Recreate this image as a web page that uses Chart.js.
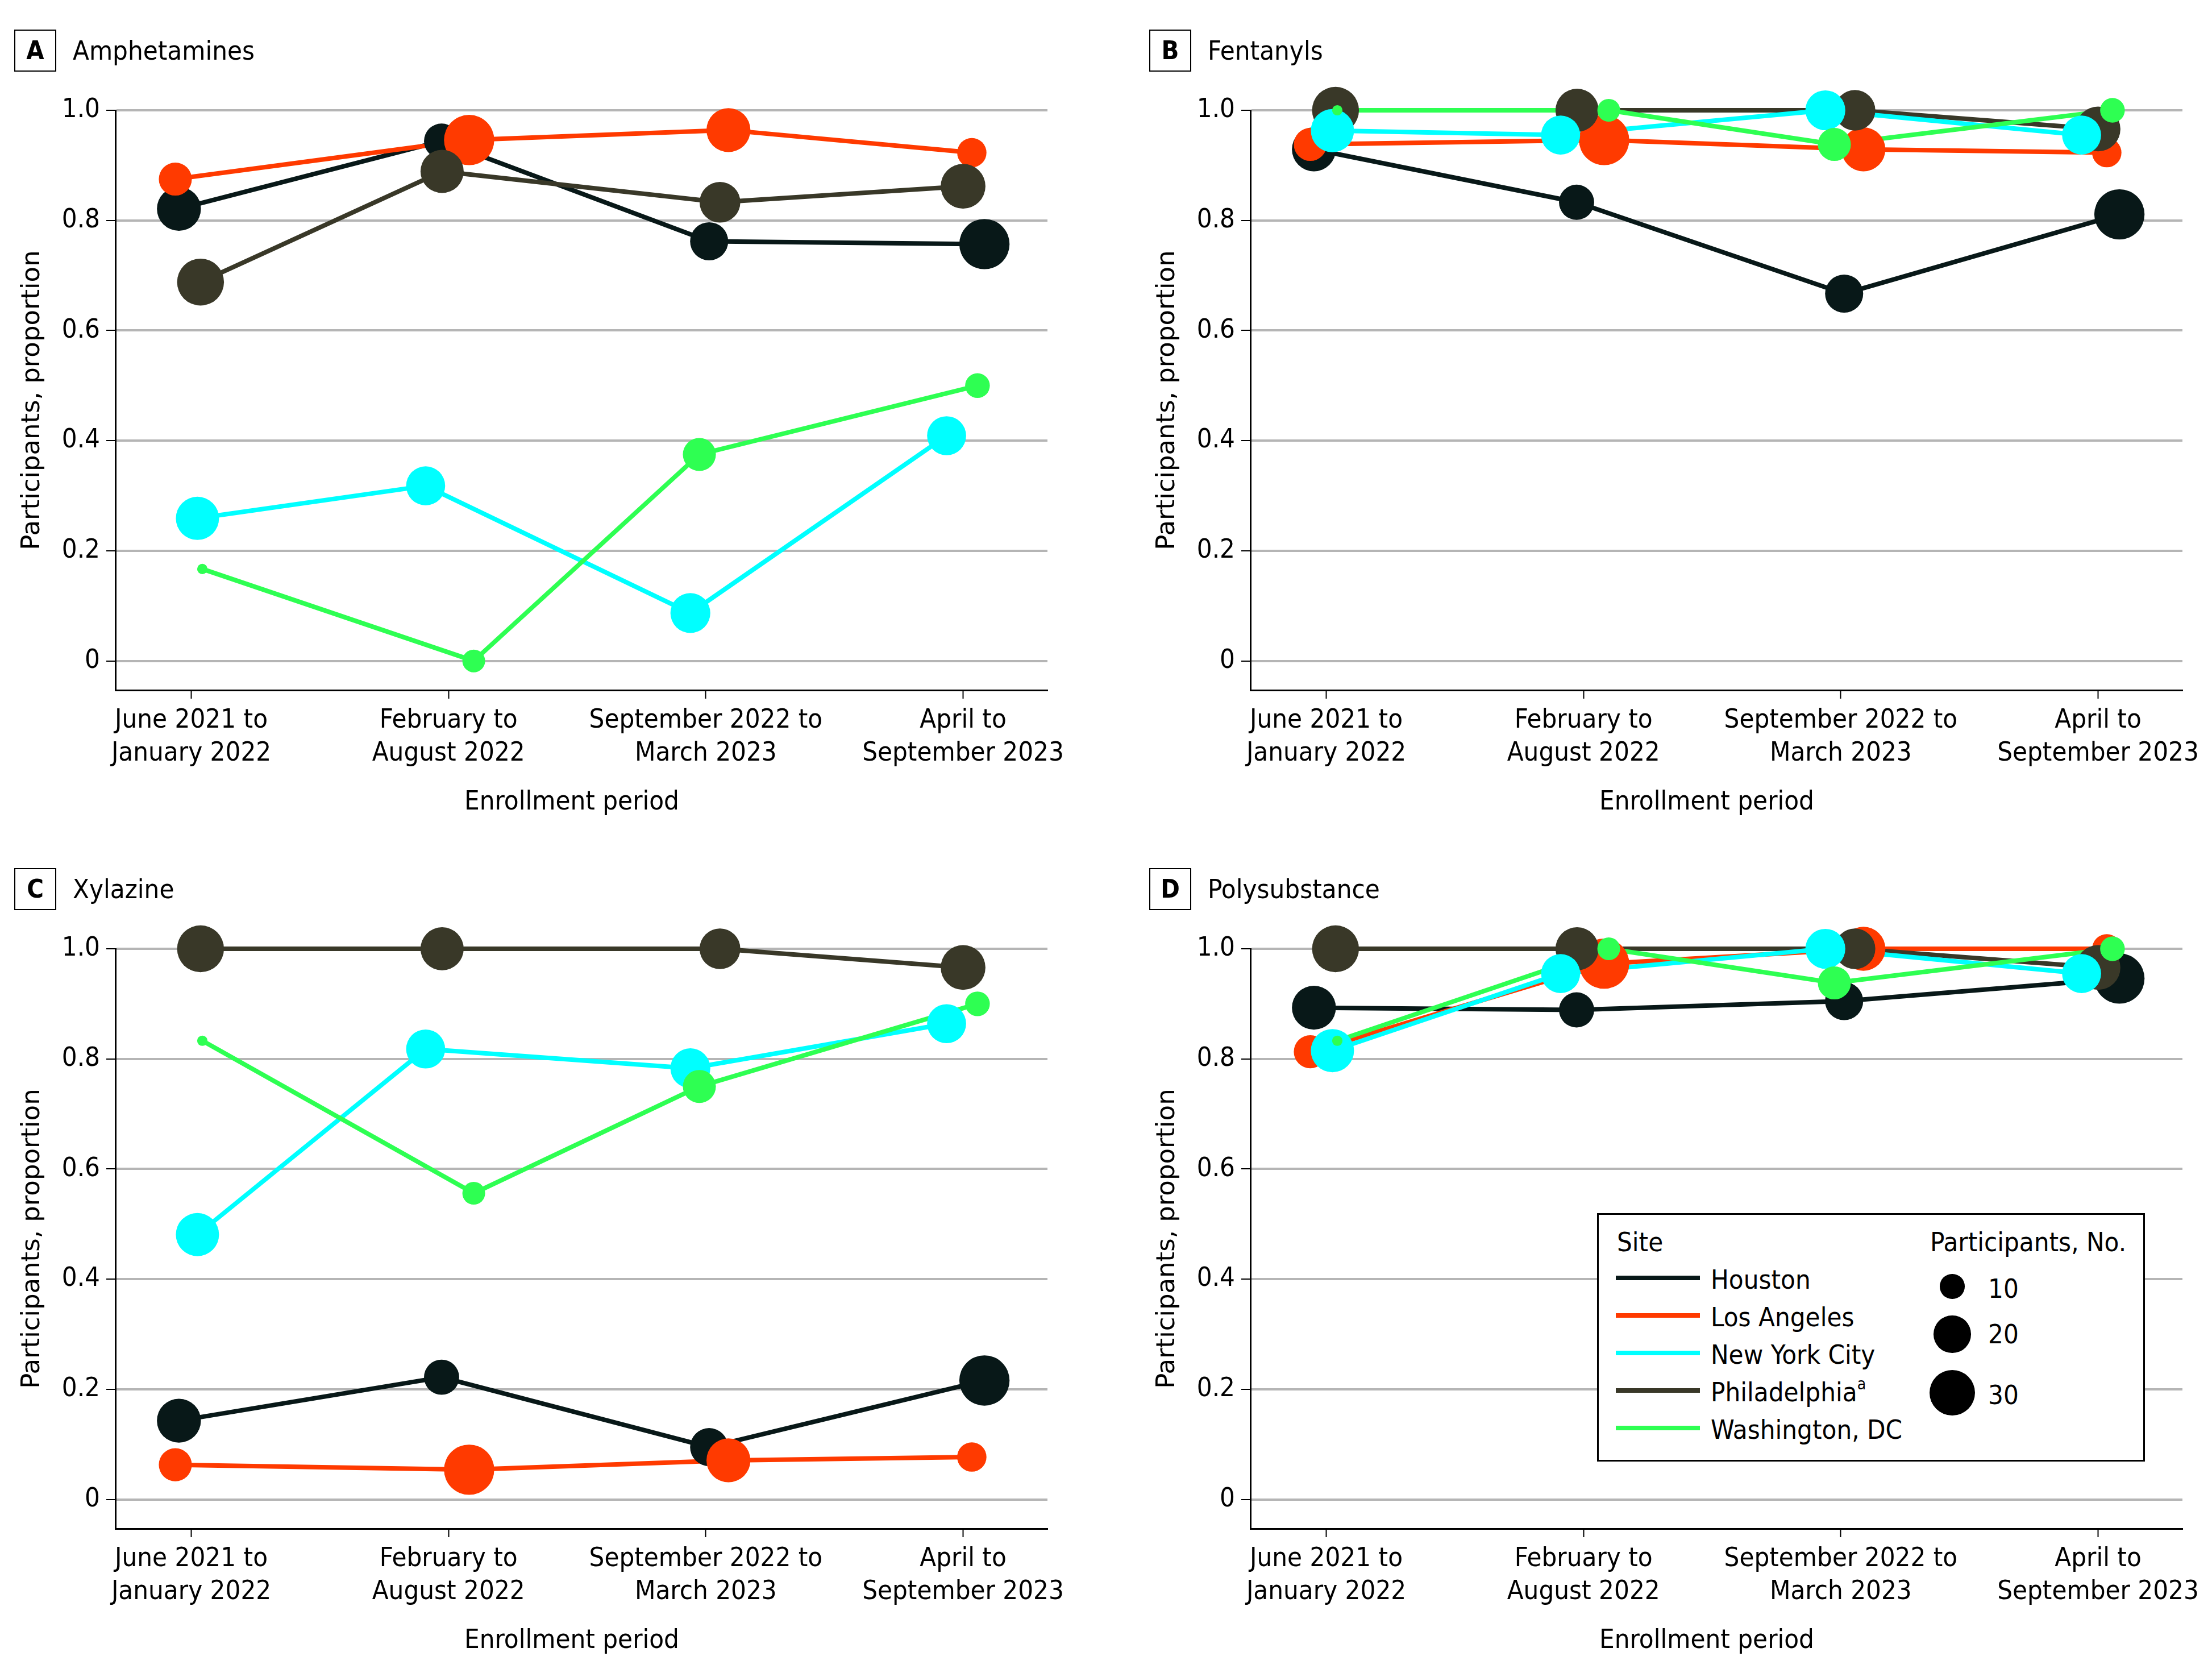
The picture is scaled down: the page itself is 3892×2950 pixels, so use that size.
<!DOCTYPE html>
<html>
<head>
<meta charset="utf-8">
<script src="https://cdn.jsdelivr.net/npm/chart.js@4.4.1/dist/chart.umd.min.js"></script>
<style>
  body { margin: 0; background: #fff; }
  #fig { position: relative; width: 3892px; height: 2950px; background: #fff; overflow: hidden;
         font-family: 'DejaVu Sans Condensed', 'Liberation Sans Narrow', sans-serif; color: #000; }
  .panel { position: absolute; width: 1895px; height: 1475px; }
  .panel canvas { position: absolute; left: 0; top: 0; }
  .tag { position: absolute; left: 25px; top: 52px; width: 74px; height: 74px; box-sizing: border-box;
         border: 2.5px solid #000; font-weight: bold; font-size: 45px; line-height: 69px; text-align: center; }
  .title { position: absolute; left: 128px; top: 59px; font-size: 47px; line-height: 60px; white-space: nowrap; }
  .ytitle { position: absolute; left: -346px; top: 674px; width: 800px; height: 60px; line-height: 60px;
            text-align: center; font-family: 'DejaVu Sans', sans-serif; font-size: 45px; transform: rotate(-90deg); }
  .xtitle { position: absolute; left: 606px; top: 1378px; width: 800px; line-height: 60px; text-align: center; font-size: 47px; }
  #legend { position: absolute; left: 2810px; top: 2134px; width: 964px; height: 437px; box-sizing: border-box;
            border: 3px solid #000; background: #fff; }
  #legend .txt { position: absolute; font-size: 47px; line-height: 60px; white-space: nowrap; }
  #legend .sw { position: absolute; left: 30px; width: 148px; height: 8px; }
  #legend .dot { position: absolute; background: #000; border-radius: 50%; }
  #legend sup { font-size: 0.6em; line-height: 0; vertical-align: 0.75em; }
</style>
</head>
<body>
<div id="fig"></div>
<script>
// enrollment periods (x categories)
const periods = [
  ['June 2021 to', 'January 2022'],
  ['February to', 'August 2022'],
  ['September 2022 to', 'March 2023'],
  ['April to', 'September 2023']
];
const sites = ['Houston', 'Los Angeles', 'New York City', 'Philadelphia', 'Washington, DC'];
const siteColors = ['#081818', '#ff3a00', '#00ffff', '#393828', '#2eff52'];
// stacking rank of each site (higher = drawn on top)
const siteLayer = [0, 1, 3, 2, 4];

// participants per site and period (marker size)
const participants = [
  [28, 18, 21, 37],
  [16, 37, 28, 13],
  [27, 22, 23, 22],
  [32, 27, 24, 29],
  [6, 9, 16, 10]
];
// horizontal jitter of each marker, in period units
const jitter = [
  [-0.048, -0.027, 0.013, 0.083],
  [-0.062, 0.080, 0.088, 0.034],
  [0.024, -0.089, -0.060, -0.064],
  [0.036, -0.025, 0.055, 0],
  [0.043, 0.098, -0.025, 0.056]
];

// proportions, rows = sites in the order above
const amphetamines = [
  [0.821, 0.944, 0.762, 0.757],
  [0.875, 0.946, 0.964, 0.923],
  [0.259, 0.318, 0.087, 0.409],
  [0.688, 0.889, 0.833, 0.862],
  [0.167, 0, 0.375, 0.5]
];
const fentanyls = [
  [0.929, 0.833, 0.667, 0.811],
  [0.938, 0.946, 0.929, 0.923],
  [0.963, 0.955, 1.0, 0.955],
  [1.0, 1.0, 1.0, 0.966],
  [1.0, 1.0, 0.938, 1.0]
];
const xylazine = [
  [0.143, 0.222, 0.095, 0.216],
  [0.063, 0.054, 0.071, 0.077],
  [0.481, 0.818, 0.783, 0.864],
  [1.0, 1.0, 1.0, 0.966],
  [0.833, 0.556, 0.75, 0.9]
];
const polysubstance = [
  [0.893, 0.889, 0.905, 0.946],
  [0.813, 0.973, 1.0, 1.0],
  [0.815, 0.955, 1.0, 0.955],
  [1.0, 1.0, 1.0, 0.966],
  [0.833, 1.0, 0.938, 1.0]
];

const yTicks = [0, 0.2, 0.4, 0.6, 0.8, 1.0];
const yTickLabels = ['0', '0.2', '0.4', '0.6', '0.8', '1.0'];
const sizeBreaks = [10, 20, 30];

const FONT = "'DejaVu Sans Condensed', 'Liberation Sans Narrow', sans-serif";
const W = 1895, H = 1475;

// area-style size scale
const nMin = Math.min(...participants.flat());
const nMax = Math.max(...participants.flat());
const rMin = 9.1, rMax = 44.2;
function radius(n) {
    return rMin + (rMax - rMin) * Math.sqrt((n - nMin) / (nMax - nMin));
}

const panels = [
    { tag: 'A', title: 'Amphetamines', values: amphetamines, left: 0, top: 0 },
    { tag: 'B', title: 'Fentanyls', values: fentanyls, left: 1997, top: 0 },
    { tag: 'C', title: 'Xylazine', values: xylazine, left: 0, top: 1475 },
    { tag: 'D', title: 'Polysubstance', values: polysubstance, left: 1997, top: 1475 }
];

const fig = document.getElementById('fig');

panels.forEach(p => {
    const div = document.createElement('div');
    div.className = 'panel';
    div.style.left = p.left + 'px';
    div.style.top = p.top + 'px';
    div.innerHTML = `
        <canvas width="${W}" height="${H}"></canvas>
        <div class="tag">${p.tag}</div>
        <div class="title">${p.title}</div>
        <div class="ytitle">Participants, proportion</div>
        <div class="xtitle">Enrollment period</div>`;
    fig.appendChild(div);

    const datasets = [];
    sites.forEach((site, s) => {
        const pts = p.values[s].map((v, i) => ({ x: i + jitter[s][i], y: v }));
        // lines under every marker
        datasets.push({
            label: site,
            data: pts,
            borderColor: siteColors[s],
            borderWidth: 8,
            borderJoinStyle: 'round',
            pointRadius: 0,
            showLine: true,
            fill: false,
            tension: 0,
            clip: false,
            order: 20 - siteLayer[s]
        });
        datasets.push({
            label: site + ' n',
            data: pts,
            showLine: false,
            pointRadius: participants[s].map(radius),
            pointHoverRadius: participants[s].map(radius),
            pointBackgroundColor: siteColors[s],
            pointBorderWidth: 0,
            clip: false,
            order: 10 - siteLayer[s]
        });
    });

    const tickFont = { family: FONT, size: 47, lineHeight: 1.23 };

    new Chart(div.querySelector('canvas'), {
        type: 'line',
        data: { datasets: datasets },
        options: {
            responsive: false,
            animation: false,
            events: [],
            layout: { autoPadding: false, padding: { left: 0, top: 194, right: 52, bottom: 0 } },
            plugins: { legend: { display: false }, tooltip: { enabled: false } },
            scales: {
                x: {
                    type: 'linear',
                    min: -0.295,
                    max: 3.328,
                    afterBuildTicks: s => { s.ticks = periods.map((q, i) => ({ value: i })); },
                    afterFit: s => { s.height = 261; },
                    ticks: {
                        callback: (v, i) => periods[i],
                        font: tickFont,
                        color: '#000',
                        padding: 10,
                        maxRotation: 0,
                        autoSkip: false
                    },
                    grid: { drawOnChartArea: false, drawTicks: true, tickLength: 15, tickColor: '#000', tickWidth: 2 },
                    border: { color: '#000', width: 3 }
                },
                y: {
                    min: -0.053,
                    max: 1.0,
                    afterBuildTicks: s => { s.ticks = yTicks.map(v => ({ value: v })); },
                    afterFit: s => { s.width = 203; },
                    ticks: {
                        callback: (v, i) => yTickLabels[i],
                        font: tickFont,
                        color: '#000',
                        padding: 11
                    },
                    grid: { color: '#b5b5b5', lineWidth: 4, tickLength: 16, tickColor: '#000', tickWidth: 2 },
                    border: { color: '#000', width: 3 }
                }
            }
        }
    });
});

// legend box
const legend = document.createElement('div');
legend.id = 'legend';
let html = '<div class="txt" style="left:32px;top:18px">Site</div>' +
           '<div class="txt" style="left:583px;top:18px">Participants, No.</div>';
sites.forEach((site, s) => {
    const y = 111 + s * 66;
    const label = site === 'Philadelphia' ? 'Philadelphia<sup>a</sup>' : site;
    html += `<div class="sw" style="top:${y - 4}px;background:${siteColors[s]}"></div>`;
    html += `<div class="txt" style="left:197px;top:${y - 27}px">${label}</div>`;
});
const dotY = [126, 210, 313];
const labY = [130, 210, 317];
sizeBreaks.forEach((n, k) => {
    const r = radius(n);
    html += `<div class="dot" style="left:${622 - r}px;top:${dotY[k] - r}px;width:${2 * r}px;height:${2 * r}px"></div>`;
    html += `<div class="txt" style="left:685px;top:${labY[k] - 30}px">${n}</div>`;
});
legend.innerHTML = html;
fig.appendChild(legend);
</script>
</body>
</html>
